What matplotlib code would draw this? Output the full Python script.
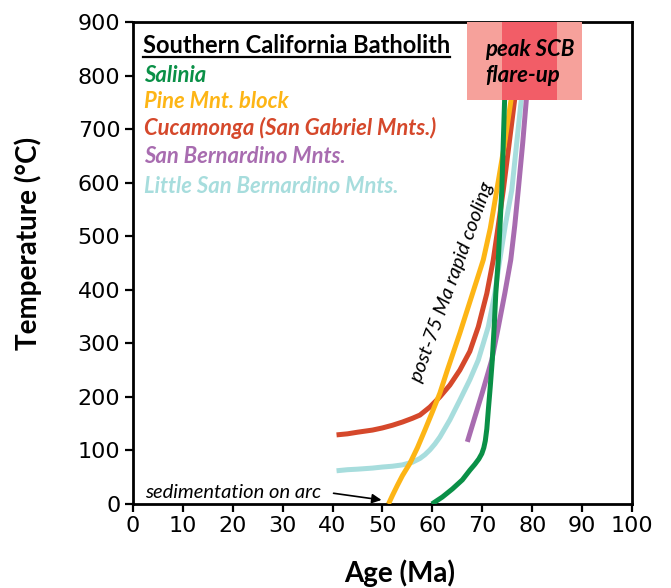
import matplotlib
matplotlib.use("Agg")
import matplotlib.pyplot as plt
from matplotlib.patches import Rectangle
from matplotlib.lines import Line2D

FONT = ["Lato", "DejaVu Sans"]
plt.rcParams["font.family"] = FONT

# ---- data ----
salinia_age = [59.9, 62, 64, 66, 67.5, 68.5, 69.3, 69.9, 70.3, 70.6, 70.9, 71.2, 71.6, 72.0, 72.4, 72.7, 73.2, 73.9, 74.5, 74.7]
salinia_T = [0, 13, 28, 45, 63, 74, 84, 94, 105, 118, 140, 175, 220, 269, 335, 393, 456, 586, 764, 800]

pine_age = [51.2, 52, 53, 54, 55.5, 57, 58.5, 60, 61.5, 63, 65.5, 68.9, 70.2, 71.6, 72.9, 74.5, 75.9, 76.3]
pine_T = [0, 16, 35, 53, 76, 105, 138, 172, 207, 250, 319, 418, 456, 515, 586, 675, 764, 800]

cuca_age = [40.8, 43, 45, 48, 50, 52, 54, 56, 57.5, 59.5, 61.5, 63.5, 65.5, 67.5, 69.2, 70.9, 72.2, 73.2, 74.2, 75.4, 76.6, 77.1]
cuca_T = [129, 131, 134, 138, 142, 147, 153, 160, 166, 181, 200, 222, 250, 285, 331, 393, 456, 520, 586, 675, 764, 800]

sanb_age = [67.0, 68.5, 70, 71.9, 73.2, 74.5, 75.7, 76.5, 77.2, 78.1, 78.9, 79.2]
sanb_T = [116, 162, 208, 269, 330, 393, 456, 520, 586, 675, 764, 800]

lsb_age = [40.8, 43, 45, 48, 50, 52, 54, 56, 57.5, 58.5, 59.5, 60.5, 61.5, 63.5, 65.5, 67.5, 69.2, 71.2, 72.5, 73.5, 74.6, 75.9, 77.9, 78.2]
lsb_T = [62, 64, 65, 67, 69, 70.5, 73, 78, 85, 92, 101, 112, 125, 157, 194, 232, 269, 331, 393, 456, 520, 586, 764, 800]

series_names = ["Salinia", "Pine Mnt. block", "Cucamonga (San Gabriel Mnts.)",
                "San Bernardino Mnts.", "Little San Bernardino Mnts."]
series_colors = ["#0A9047", "#FDB515", "#D5482B", "#A86CB0", "#A7DDDD"]

flare_outer = (67, 90)
flare_inner = (74, 85)
flare_T = (755, 900)

x_ticks = list(range(0, 101, 10))
y_ticks = list(range(0, 901, 100))

# ---- figure ----
fig = plt.figure(figsize=(6.71, 5.88), dpi=100)
ax = fig.add_axes([0.198, 0.1429, 0.744, 0.8197])

lw = 3.6
order = [(lsb_age, lsb_T, 4), (sanb_age, sanb_T, 3), (cuca_age, cuca_T, 2),
         (pine_age, pine_T, 1), (salinia_age, salinia_T, 0)]
for xs, ys, i in order:
    ax.plot(xs, ys, color=series_colors[i], lw=lw, solid_capstyle="butt",
            solid_joinstyle="round", zorder=3)

# flare-up box
ax.add_patch(Rectangle((flare_outer[0], flare_T[0]), flare_outer[1] - flare_outer[0],
                       flare_T[1] - flare_T[0], facecolor="#F6A19B", edgecolor="none", zorder=5))
ax.add_patch(Rectangle((flare_inner[0], flare_T[0]), flare_inner[1] - flare_inner[0],
                       flare_T[1] - flare_T[0], facecolor="#F25D67", edgecolor="none", zorder=6))
ax.text(70.5, 825, "peak SCB\nflare-up", fontsize=16, style="italic", weight="bold",
        ha="left", va="center", linespacing=1.3, zorder=7)

ax.set_xlim(0, 100)
ax.set_ylim(0, 900)
ax.set_xticks(x_ticks)
ax.set_yticks(y_ticks)
ax.tick_params(direction="out", length=6, width=1.6, labelsize=16, pad=3)
for lab in ax.get_xticklabels() + ax.get_yticklabels():
    lab.set_family(["DejaVu Sans"])
for sp in ax.spines.values():
    sp.set_linewidth(2)

fig.text(28 / 671, 1 - 243 / 588, "Temperature (°C)", rotation=90, fontsize=20,
         weight="bold", ha="center", va="center")
fig.text(400 / 671, 1 - 573 / 588, "Age (Ma)", fontsize=20, weight="bold",
         ha="center", va="center")

# legend-like text
title = ax.text(2.0, 857, "Southern California Batholith", fontsize=17, weight="bold",
                ha="left", va="center", zorder=7)
leg_T = [801, 751, 702, 648, 592]
for name, col, t in zip(series_names, series_colors, leg_T):
    ax.text(2.2, t, name, fontsize=15.8, style="italic", weight="bold", color=col,
            ha="left", va="center", zorder=7)

# annotations
ax.text(2.4, 22, "sedimentation on arc", fontsize=14.5, style="italic",
        ha="left", va="center")
ax.annotate("", xy=(49.8, 7.5), xytext=(40.2, 20),
            arrowprops=dict(arrowstyle="-|>", color="black", lw=1.2,
                            mutation_scale=14, shrinkA=0, shrinkB=0))
ax.text(63.9, 414, "post-75 Ma rapid cooling", fontsize=14.5, style="italic",
        rotation=70, ha="center", va="center", rotation_mode="anchor")

# underline the title
fig.canvas.draw()
bb = title.get_window_extent()
inv = fig.transFigure.inverted()
(x0, y0), (x1, y1) = inv.transform([(bb.x0, bb.y0), (bb.x1, bb.y0)])
fig.add_artist(Line2D([x0, x1], [y0 - 0.001, y0 - 0.001], color="black", lw=1.6))

fig.savefig("out.png", dpi=100)
